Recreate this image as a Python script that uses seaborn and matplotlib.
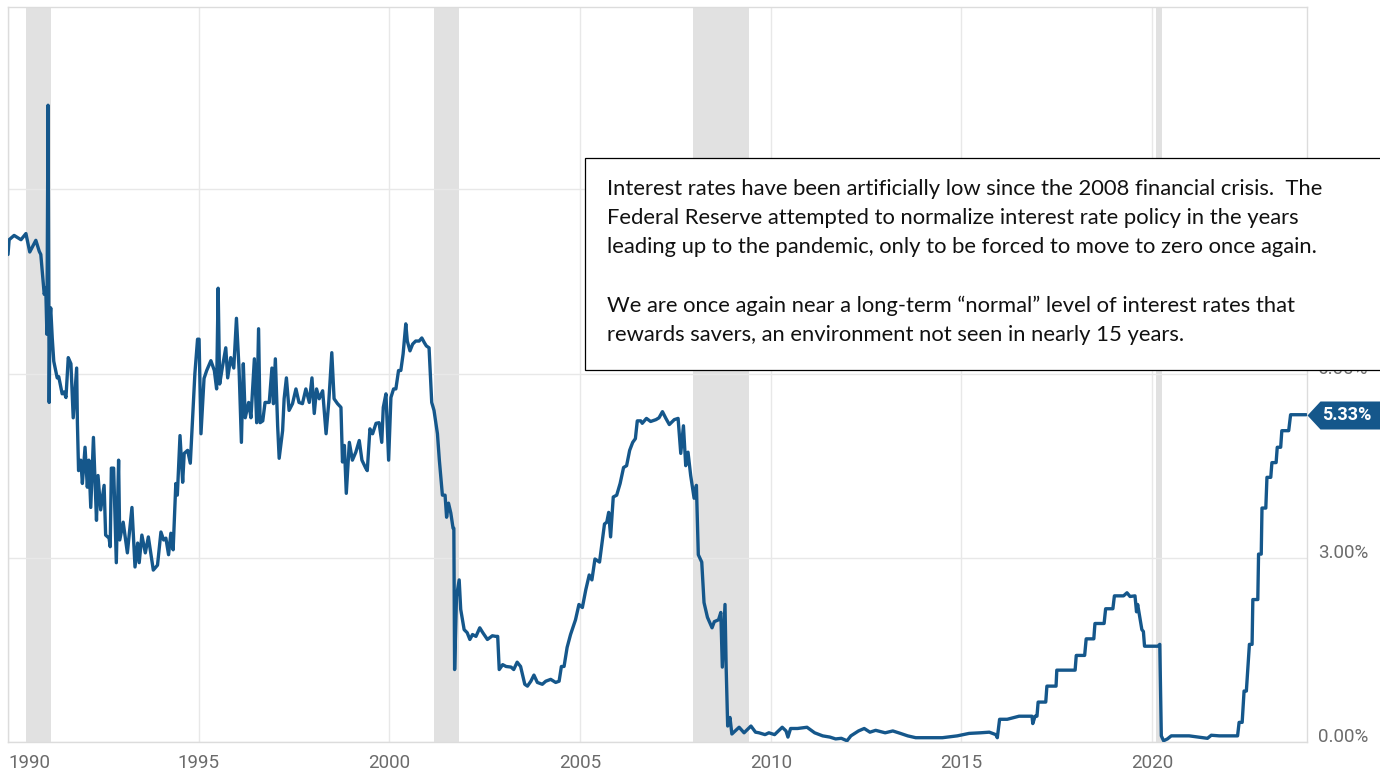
import numpy as np
import pandas as pd
import seaborn as sns
import matplotlib
matplotlib.use("Agg")
import matplotlib.pyplot as plt
from matplotlib.patches import Rectangle

# effective fed funds rate (decimal year, percent)
dates = [
    1990.00, 1990.03, 1990.16, 1990.34, 1990.47, 1990.57, 1990.73, 1990.82, 1990.86, 1990.95,
    1990.99, 1991.02, 1991.05, 1991.07, 1991.08, 1991.10, 1991.12, 1991.16, 1991.20, 1991.29,
    1991.33, 1991.42, 1991.47, 1991.52, 1991.58, 1991.65, 1991.71, 1991.80, 1991.82, 1991.85,
    1991.91, 1991.95, 1992.02, 1992.08, 1992.12, 1992.17, 1992.24, 1992.32, 1992.36, 1992.43,
    1992.52, 1992.56, 1992.65, 1992.68, 1992.71, 1992.77, 1992.84, 1992.90, 1992.93, 1993.02,
    1993.13, 1993.25, 1993.33, 1993.40, 1993.44, 1993.51, 1993.60, 1993.68, 1993.81, 1993.92,
    1994.01, 1994.08, 1994.14, 1994.21, 1994.27, 1994.33, 1994.40, 1994.44, 1994.51, 1994.58,
    1994.62, 1994.71, 1994.78, 1994.90, 1994.97, 1995.01, 1995.06, 1995.14, 1995.21, 1995.32,
    1995.41, 1995.47, 1995.51, 1995.55, 1995.62, 1995.71, 1995.76, 1995.84, 1995.92, 1995.99,
    1996.06, 1996.12, 1996.17, 1996.22, 1996.31, 1996.37, 1996.46, 1996.52, 1996.57, 1996.61,
    1996.68, 1996.74, 1996.85, 1996.92, 1996.96, 1997.01, 1997.07, 1997.11, 1997.20, 1997.24,
    1997.30, 1997.37, 1997.46, 1997.55, 1997.63, 1997.72, 1997.81, 1997.90, 1997.97, 1998.03,
    1998.09, 1998.16, 1998.25, 1998.34, 1998.41, 1998.49, 1998.55, 1998.64, 1998.73, 1998.77,
    1998.82, 1998.87, 1998.95, 1999.03, 1999.12, 1999.21, 1999.28, 1999.38, 1999.42, 1999.49,
    1999.56, 1999.65, 1999.73, 1999.80, 1999.84, 1999.91, 1999.98, 2000.04, 2000.11, 2000.17,
    2000.24, 2000.30, 2000.36, 2000.43, 2000.47, 2000.54, 2000.61, 2000.69, 2000.78, 2000.85,
    2000.92, 2000.97, 2001.04, 2001.11, 2001.17, 2001.26, 2001.31, 2001.39, 2001.46, 2001.50,
    2001.55, 2001.61, 2001.67, 2001.69, 2001.71, 2001.76, 2001.83, 2001.87, 2001.96, 2002.04,
    2002.11, 2002.18, 2002.27, 2002.37, 2002.45, 2002.57, 2002.70, 2002.79, 2002.84, 2002.88,
    2002.97, 2003.06, 2003.19, 2003.26, 2003.35, 2003.44, 2003.51, 2003.55, 2003.62, 2003.71,
    2003.79, 2003.88, 2004.01, 2004.10, 2004.23, 2004.36, 2004.45, 2004.51, 2004.58, 2004.66,
    2004.75, 2004.88, 2004.97, 2005.06, 2005.15, 2005.24, 2005.31, 2005.39, 2005.51, 2005.64,
    2005.70, 2005.75, 2005.80, 2005.87, 2005.96, 2006.05, 2006.14, 2006.22, 2006.30, 2006.38,
    2006.45, 2006.50, 2006.59, 2006.63, 2006.74, 2006.85, 2006.99, 2007.07, 2007.16, 2007.25,
    2007.34, 2007.47, 2007.57, 2007.64, 2007.71, 2007.77, 2007.83, 2007.90, 2007.99, 2008.05,
    2008.10, 2008.19, 2008.25, 2008.34, 2008.46, 2008.52, 2008.63, 2008.69, 2008.73, 2008.80,
    2008.83, 2008.87, 2008.93, 2008.98, 2009.17, 2009.30, 2009.48, 2009.60, 2009.69, 2009.85,
    2009.95, 2010.10, 2010.30, 2010.40, 2010.45, 2010.52, 2010.70, 2010.95, 2011.15, 2011.36,
    2011.55, 2011.70, 2011.85, 2012.00, 2012.10, 2012.30, 2012.45, 2012.60, 2012.75, 2013.00,
    2013.20, 2013.40, 2013.59, 2013.80, 2014.18, 2014.50, 2014.89, 2015.20, 2015.50, 2015.73,
    2015.90, 2015.94, 2016.00, 2016.20, 2016.51, 2016.85, 2016.87, 2016.93, 2016.98, 2017.01,
    2017.21, 2017.24, 2017.48, 2017.50, 2017.98, 2018.01, 2018.23, 2018.27, 2018.47, 2018.50,
    2018.74, 2018.78, 2018.97, 2019.01, 2019.25, 2019.34, 2019.42, 2019.55, 2019.59, 2019.62,
    2019.73, 2019.77, 2019.80, 2020.15, 2020.20, 2020.24, 2020.30, 2020.40, 2020.50, 2020.97,
    2021.20, 2021.45, 2021.55, 2021.76, 2022.24, 2022.28, 2022.36, 2022.41, 2022.47, 2022.55,
    2022.62, 2022.64, 2022.77, 2022.79, 2022.86, 2022.88, 2022.98, 2023.01, 2023.11, 2023.14,
    2023.25, 2023.28, 2023.37, 2023.40, 2023.58, 2023.63, 2024.04,
]
rates = [
    7.94, 8.18, 8.25, 8.18, 8.28, 7.98, 8.17, 7.99, 7.94, 7.29,
    7.39, 6.64, 10.37, 6.90, 5.53, 6.90, 7.07, 6.58, 6.20, 5.93,
    5.95, 5.67, 5.70, 5.61, 6.26, 6.16, 5.28, 6.09, 5.19, 4.42,
    4.59, 4.21, 4.80, 4.15, 4.59, 3.82, 4.96, 3.61, 4.34, 3.78,
    4.18, 3.37, 3.32, 3.18, 4.46, 4.46, 2.92, 4.59, 3.29, 3.58,
    3.08, 3.82, 2.85, 3.24, 2.92, 3.37, 3.08, 3.34, 2.80, 2.88,
    3.42, 3.29, 3.32, 3.05, 3.40, 3.13, 4.21, 4.02, 4.99, 4.23,
    4.70, 4.75, 4.54, 6.00, 6.56, 6.56, 5.02, 5.92, 6.05, 6.21,
    6.05, 5.75, 7.39, 5.83, 6.10, 6.42, 5.93, 6.26, 6.09, 6.90,
    6.05, 4.88, 6.16, 5.28, 5.53, 5.28, 6.24, 5.20, 6.73, 5.20,
    5.23, 5.53, 5.53, 6.09, 5.51, 6.24, 5.15, 4.62, 5.07, 5.59,
    5.93, 5.40, 5.51, 5.75, 5.53, 5.51, 5.75, 5.53, 5.93, 5.35,
    5.75, 5.59, 5.72, 5.02, 5.53, 6.34, 5.59, 5.51, 5.45, 4.56,
    4.83, 4.05, 4.88, 4.59, 4.72, 4.91, 4.59, 4.46, 4.42, 5.10,
    5.02, 5.19, 5.20, 4.88, 5.45, 5.67, 4.59, 5.61, 5.75, 5.75,
    6.05, 6.05, 6.32, 6.81, 6.53, 6.37, 6.48, 6.53, 6.53, 6.58,
    6.50, 6.45, 6.42, 5.53, 5.40, 5.02, 4.59, 4.02, 4.02, 3.66,
    3.89, 3.73, 3.48, 3.48, 1.18, 2.37, 2.64, 2.16, 1.83, 1.78,
    1.67, 1.75, 1.72, 1.86, 1.78, 1.67, 1.73, 1.72, 1.72, 1.18,
    1.26, 1.23, 1.22, 1.18, 1.30, 1.23, 1.05, 0.94, 0.91, 0.99,
    1.09, 0.97, 0.94, 0.99, 1.02, 0.97, 0.99, 1.23, 1.23, 1.54,
    1.75, 1.99, 2.24, 2.19, 2.48, 2.72, 2.64, 2.98, 2.93, 3.55,
    3.58, 3.74, 3.34, 3.99, 4.02, 4.21, 4.47, 4.50, 4.75, 4.88,
    4.94, 5.23, 5.23, 5.19, 5.27, 5.22, 5.25, 5.28, 5.38, 5.27,
    5.17, 5.25, 5.27, 4.70, 5.15, 4.50, 4.72, 4.34, 3.97, 4.18,
    3.05, 2.93, 2.27, 2.03, 1.86, 1.96, 1.99, 2.11, 1.22, 2.24,
    1.22, 0.26, 0.40, 0.13, 0.24, 0.15, 0.26, 0.16, 0.15, 0.12,
    0.15, 0.12, 0.24, 0.18, 0.08, 0.22, 0.22, 0.24, 0.15, 0.10,
    0.08, 0.05, 0.06, 0.02, 0.10, 0.18, 0.22, 0.16, 0.19, 0.15,
    0.18, 0.14, 0.10, 0.07, 0.07, 0.07, 0.10, 0.14, 0.15, 0.16,
    0.12, 0.07, 0.37, 0.37, 0.42, 0.42, 0.30, 0.42, 0.42, 0.65,
    0.65, 0.91, 0.91, 1.17, 1.17, 1.41, 1.41, 1.68, 1.68, 1.93,
    1.93, 2.17, 2.17, 2.38, 2.38, 2.43, 2.37, 2.38, 2.12, 2.24,
    1.83, 1.80, 1.56, 1.56, 1.59, 0.10, 0.02, 0.05, 0.10, 0.10,
    0.08, 0.06, 0.11, 0.10, 0.10, 0.32, 0.32, 0.83, 0.83, 1.59,
    1.59, 2.32, 2.32, 3.06, 3.06, 3.81, 3.81, 4.31, 4.31, 4.55,
    4.55, 4.80, 4.80, 5.07, 5.07, 5.33, 5.33,
]

# recession bands (start, end)
recession_start = [1990.48, 2001.17, 2007.95, 2020.09]
recession_end = [1991.14, 2001.83, 2009.42, 2020.25]

year_ticks = [1990, 1995, 2000, 2005, 2010, 2015, 2020]
rate_ticks = [0, 3, 6, 9]
rate_labels = ["0.00%", "3.00%", "6.00%", "9.00%"]
last_rate = 5.33

note_lines = [
    "Interest rates have been artificially low since the 2008 financial crisis.  The",
    "Federal Reserve attempted to normalize interest rate policy in the years",
    "leading up to the pandemic, only to be forced to move to zero once again.",
    "",
    "We are once again near a long-term \u201cnormal\u201d level of interest rates that",
    "rewards savers, an environment not seen in nearly 15 years.",
]

LINE = "#15578b"
GRID = "#e8e8e8"
TICK = "#6b6b6b"

sns.set_theme(style="white")
plt.rcParams["font.family"] = ["Roboto", "DejaVu Sans"]

W, H = 1380, 772
fig = plt.figure(figsize=(W / 100, H / 100), dpi=100)
ax = fig.add_axes([8 / W, 30 / H, 1299 / W, 735 / H])

df = pd.DataFrame({"date": dates, "rate": rates})

for s, e in zip(recession_start, recession_end):
    ax.axvspan(s, e, color="#e1e1e1", lw=0, zorder=0)

sns.lineplot(data=df, x="date", y="rate", ax=ax, color=LINE, linewidth=2.4,
             estimator=None, sort=False, zorder=3)

ax.set_xlim(1990.0, 2024.06)
ax.set_ylim(0, 11.97)
ax.set_xlabel("")
ax.set_ylabel("")

ax.set_xticks(year_ticks)
ax.set_xticklabels([str(y) for y in year_ticks])
ax.set_yticks(rate_ticks)
ax.set_yticklabels(rate_labels)
ax.yaxis.tick_right()
ax.grid(True, color=GRID, linewidth=1.0, zorder=1)
ax.set_axisbelow(True)
ax.tick_params(axis="x", length=0, pad=9, labelsize=13.5, labelcolor=TICK)
ax.tick_params(axis="y", length=0, pad=8, labelsize=13.5, labelcolor=TICK)
ax.get_xticklabels()[0].set_ha("left")
for lab in ax.get_yticklabels():
    lab.set_va("baseline")
for sp in ax.spines.values():
    sp.set_color("#dcdcdc")
    sp.set_linewidth(1.0)

# last-value tag at the right edge
tag_tr = ax.get_yaxis_transform()
tag_shape = [(0, 0), (13, 14), (80, 14), (80, -14), (13, -14)]
ax.plot([1.0], [last_rate], marker=tag_shape, markersize=160 * 0.72, color=LINE,
        markeredgewidth=0, transform=tag_tr, clip_on=False, zorder=6)
ax.annotate(f"{last_rate:.2f}%", xy=(1.0, last_rate), xycoords=tag_tr,
            xytext=(40 * 0.72, 0), textcoords="offset points", ha="center", va="center",
            color="white", fontsize=13, fontweight="bold", zorder=7,
            annotation_clip=False)

# commentary box
fig.add_artist(Rectangle((585 / W, 1 - 370 / H), 800 / W, 212 / H,
                         transform=fig.transFigure, facecolor="white",
                         edgecolor="black", linewidth=0.9, zorder=10))
y0 = 189
for i, line in enumerate(note_lines):
    if line:
        fig.text(607 / W, 1 - (y0 + i * 29.2) / H, line, ha="left", va="center",
                 fontsize=15.8, family=["Lato", "DejaVu Sans"], color="#111111", zorder=11)

fig.savefig("out.png", dpi=100)
